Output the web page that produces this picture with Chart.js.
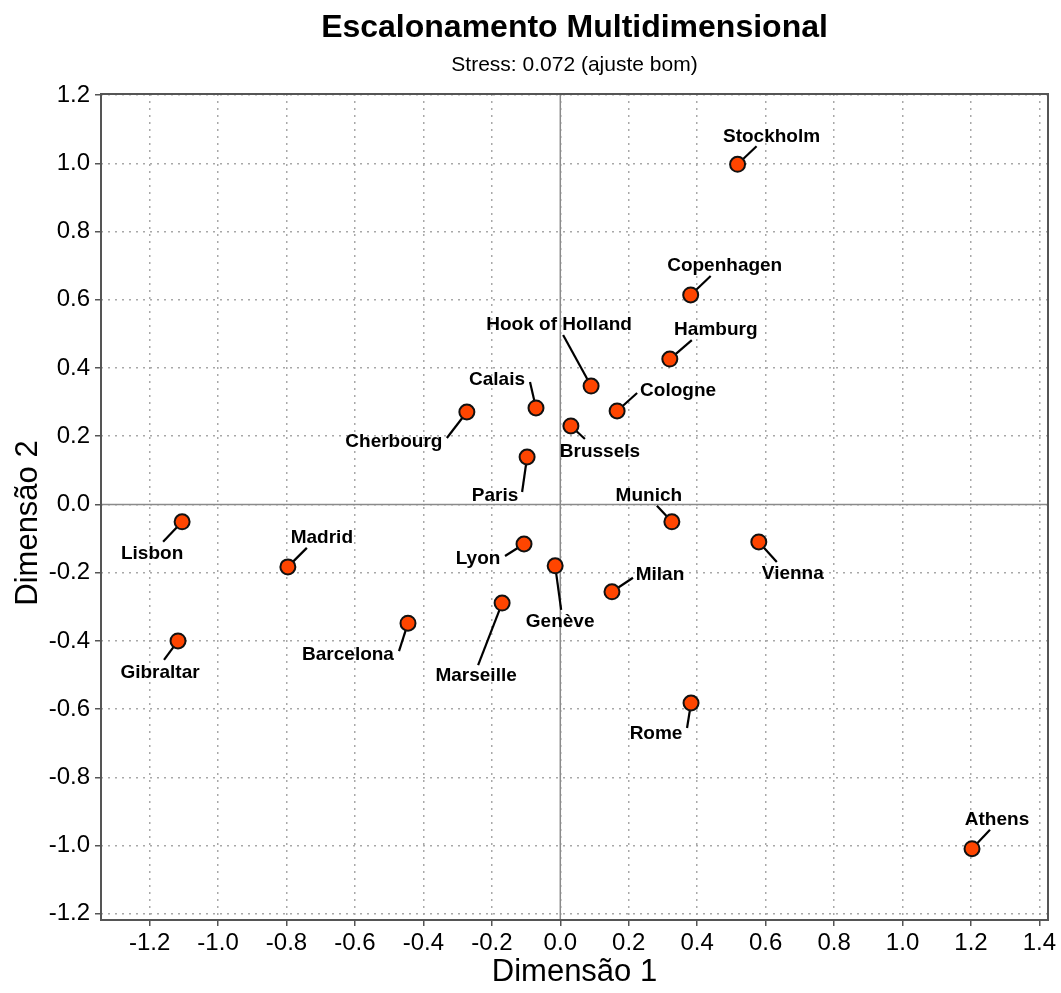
<!DOCTYPE html>
<html>
<head>
<meta charset="utf-8">
<script src="https://cdn.jsdelivr.net/npm/chart.js@4.4.1/dist/chart.umd.min.js"></script>
<style>
  html, body { margin: 0; padding: 0; background: #fff; }
  #wrap { width: 1061px; height: 993px; position: relative; }
</style>
</head>
<body>
<div id="wrap"><canvas id="c"></canvas></div>
<script>
// ---- Data ----
const cities = ["Stockholm","Copenhagen","Hamburg","Hook of Holland","Cologne","Calais","Brussels","Cherbourg","Paris","Munich","Vienna","Lisbon","Madrid","Lyon","Genève","Milan","Marseille","Barcelona","Gibraltar","Rome","Athens"];
const dim1 = [0.518, 0.381, 0.320, 0.090, 0.166, -0.071, 0.031, -0.273, -0.097, 0.326, 0.580, -1.105, -0.796, -0.106, -0.015, 0.151, -0.170, -0.445, -1.117, 0.382, 1.203];
const dim2 = [0.997, 0.614, 0.426, 0.347, 0.274, 0.283, 0.230, 0.271, 0.139, -0.051, -0.110, -0.051, -0.183, -0.116, -0.180, -0.256, -0.289, -0.348, -0.400, -0.582, -1.009];
const xTicks = [-1.2, -1.0, -0.8, -0.6, -0.4, -0.2, 0.0, 0.2, 0.4, 0.6, 0.8, 1.0, 1.2, 1.4];
const yTicks = [-1.2, -1.0, -0.8, -0.6, -0.4, -0.2, 0.0, 0.2, 0.4, 0.6, 0.8, 1.0, 1.2];
const titleText = "Escalonamento Multidimensional";
const subtitleText = "Stress: 0.072 (ajuste bom)";
const xTitle = "Dimensão 1";
const yTitle = "Dimensão 2";

// ---- Label layout (pixel offsets from point: label center dx,dy; leader end dx,dy) ----
const labelLayout = [
  [34,-28,19,-18],[34,-29,20,-19],[46,-29,22,-19],[-32,-61,-28,-51],[61,-20,20,-18],
  [-39,-28,-6,-26],[29,26,14,13],[-73,30,-20,26],[-32,39,-5,35],[-23,-26,-15,-16],
  [34,32,18,20],[-30,32,-19,20],[34,-29,19,-19],[-46,15,-19,12],[5,56,6,44],
  [48,-17,21,-14],[-26,73,-24,62],[-60,32,-9,28],[-18,32,-14,19],[-35,31,-4,25],
  [25,-29,18,-19]
];

const FONT = "'Liberation Sans', Arial, Helvetica, sans-serif";
const points = cities.map((c, i) => ({ x: dim1[i], y: dim2[i] }));

const decorPlugin = {
  id: 'decor',
  beforeDatasetsDraw(chart) {
    const { ctx, chartArea: a, scales: { x, y } } = chart;
    ctx.save();
    // zero lines
    ctx.strokeStyle = '#8a8a8a';
    ctx.lineWidth = 1.5;
    ctx.setLineDash([]);
    const x0 = x.getPixelForValue(0), y0 = y.getPixelForValue(0);
    ctx.beginPath();
    ctx.moveTo(x0, a.top); ctx.lineTo(x0, a.bottom);
    ctx.moveTo(a.left, y0); ctx.lineTo(a.right, y0);
    ctx.stroke();
    // leader lines
    ctx.strokeStyle = '#000';
    ctx.lineWidth = 2.2;
    ctx.lineCap = 'butt';
    points.forEach((p, i) => {
      const px = x.getPixelForValue(p.x), py = y.getPixelForValue(p.y);
      const L = labelLayout[i];
      ctx.beginPath();
      ctx.moveTo(px, py);
      ctx.lineTo(px + L[2], py + L[3]);
      ctx.stroke();
    });
    ctx.restore();
  },
  afterDatasetsDraw(chart) {
    const { ctx, scales: { x, y } } = chart;
    ctx.save();
    ctx.fillStyle = '#000';
    ctx.font = "bold 19px " + FONT;
    ctx.textAlign = 'center';
    ctx.textBaseline = 'middle';
    points.forEach((p, i) => {
      const px = x.getPixelForValue(p.x), py = y.getPixelForValue(p.y);
      const L = labelLayout[i];
      ctx.fillText(cities[i], px + L[0], py + L[1]);
    });
    ctx.restore();
  },
  afterDraw(chart) {
    const { ctx, chartArea: a } = chart;
    ctx.save();
    ctx.strokeStyle = '#555';
    ctx.lineWidth = 2;
    ctx.setLineDash([]);
    ctx.strokeRect(a.left, a.top, a.right - a.left, a.bottom - a.top);
    const cx = (a.left + a.right) / 2;
    ctx.fillStyle = '#000';
    ctx.textAlign = 'center';
    ctx.textBaseline = 'alphabetic';
    ctx.font = "bold 32px " + FONT;
    ctx.fillText(titleText, cx, 37);
    ctx.font = "21px " + FONT;
    ctx.fillText(subtitleText, cx, 71);
    // y axis title
    ctx.save();
    ctx.translate(28, (a.top + a.bottom) / 2 + 16);
    ctx.rotate(-Math.PI / 2);
    ctx.textBaseline = 'middle';
    ctx.font = "31px " + FONT;
    ctx.fillText(yTitle, 0, 0);
    ctx.restore();
    ctx.restore();
  }
};

const gridCommon = {
  color: '#a8a8a8',
  lineWidth: 1.5,
  tickColor: '#555',
  tickWidth: 1.5,
  tickLength: 6,
  tickBorderDash: [],
  drawOnChartArea: true,
  drawTicks: true
};

new Chart(document.getElementById('c'), {
  type: 'scatter',
  data: {
    datasets: [{
      data: points,
      pointRadius: 7.5,
      pointHoverRadius: 7.5,
      pointBackgroundColor: '#ff4500',
      pointBorderColor: '#111',
      pointBorderWidth: 2,
      pointHoverBorderWidth: 2
    }]
  },
  options: {
    responsive: true,
    maintainAspectRatio: false,
    animation: false,
    devicePixelRatio: 1,
    layout: { padding: { top: 94, right: 13, left: 0, bottom: 0 } },
    plugins: { legend: { display: false }, tooltip: { enabled: false }, title: { display: false } },
    events: [],
    scales: {
      x: {
        type: 'linear',
        min: -1.342,
        max: 1.425,
        afterBuildTicks: (s) => { s.ticks = xTicks.map(v => ({ value: v })); },
        afterFit: (s) => { s.height = 73; },
        ticks: {
          autoSkip: false,
          maxRotation: 0,
          padding: 3,
          color: '#000',
          font: { family: FONT, size: 24 },
          callback: (v) => Number(v).toFixed(1)
        },
        grid: gridCommon,
        border: { display: false, dash: [2, 5] },
        title: {
          display: true,
          text: xTitle,
          color: '#000',
          font: { family: FONT, size: 31 },
          padding: { top: 0, bottom: 2 }
        }
      },
      y: {
        type: 'linear',
        min: -1.218,
        max: 1.203,
        afterBuildTicks: (s) => { s.ticks = yTicks.map(v => ({ value: v })); },
        afterFit: (s) => { s.width = 101; },
        ticks: {
          autoSkip: false,
          padding: 5,
          color: '#000',
          font: { family: FONT, size: 24 },
          callback: (v) => Number(v).toFixed(1)
        },
        grid: gridCommon,
        border: { display: false, dash: [2, 5] },
        title: { display: false }
      }
    }
  },
  plugins: [decorPlugin]
});
</script>
</body>
</html>
